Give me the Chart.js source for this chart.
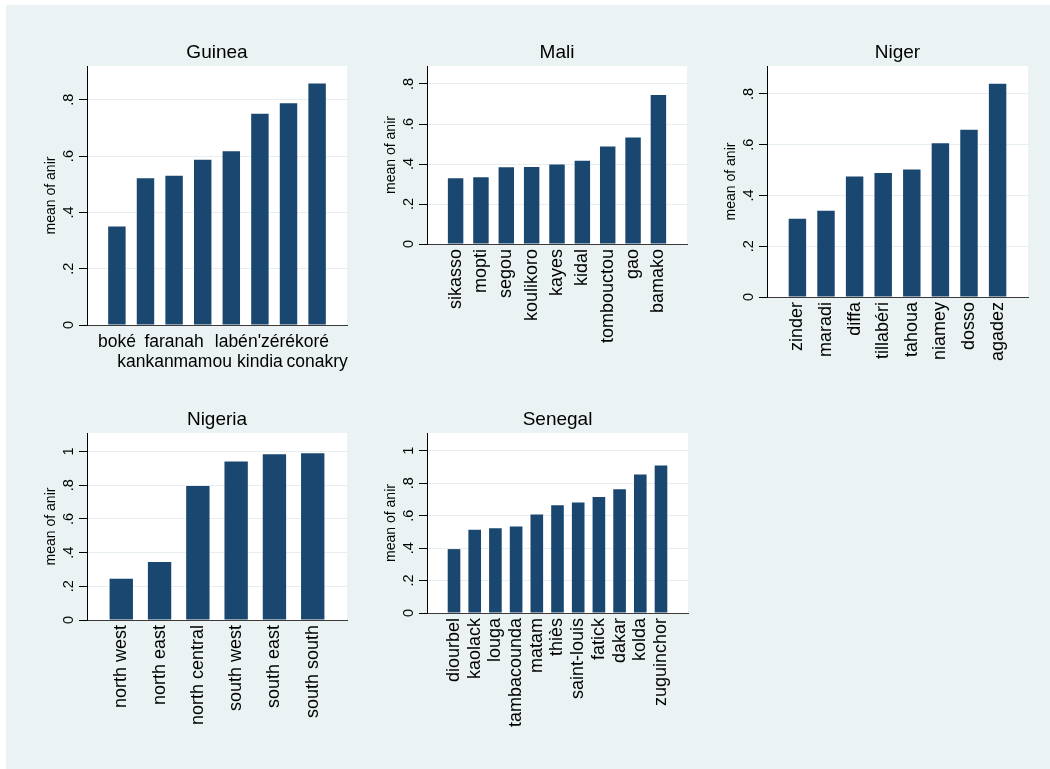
<!DOCTYPE html>
<html>
<head>
<meta charset="utf-8">
<title>mean of anir by region</title>
<script src="https://cdn.jsdelivr.net/npm/chart.js@4"></script>
<style>
  body { margin: 0; background: #ffffff; }
  #graph { position: absolute; left: 6px; top: 5px; width: 1044px; height: 764px; background: #eaf2f3; }
  canvas { position: absolute; }
</style>
</head>
<body>
<div id="graph"></div>
<script>
'use strict';

var guineaRegions = ['boké', 'kankan', 'faranah', 'mamou', 'labé', 'kindia', "n'zérékoré", 'conakry'];
var guineaAnir = [0.350, 0.521, 0.530, 0.587, 0.617, 0.750, 0.788, 0.858];

var maliRegions = ['sikasso', 'mopti', 'segou', 'koulikoro', 'kayes', 'kidal', 'tombouctou', 'gao', 'bamako'];
var maliAnir = [0.329, 0.334, 0.384, 0.385, 0.398, 0.416, 0.488, 0.533, 0.745];

var nigerRegions = ['zinder', 'maradi', 'diffa', 'tillabéri', 'tahoua', 'niamey', 'dosso', 'agadez'];
var nigerAnir = [0.308, 0.340, 0.475, 0.488, 0.502, 0.606, 0.659, 0.840];

var nigeriaRegions = ['north west', 'north east', 'north central', 'south west', 'south east', 'south south'];
var nigeriaAnir = [0.245, 0.344, 0.796, 0.941, 0.984, 0.990];

var senegalRegions = ['diourbel', 'kaolack', 'louga', 'tambacounda', 'matam', 'thiès', 'saint-louis', 'fatick', 'dakar', 'kolda', 'zuguinchor'];
var senegalAnir = [0.394, 0.513, 0.522, 0.534, 0.608, 0.664, 0.682, 0.715, 0.763, 0.854, 0.909];

var ticksToPoint8 = [0, 0.2, 0.4, 0.6, 0.8];
var ticksToOne = [0, 0.2, 0.4, 0.6, 0.8, 1];

var navy = '#1a476f';
var gridColor = '#e6eef0';
var fontFamily = "'Liberation Sans', Arial, Helvetica, sans-serif";

Chart.defaults.font.family = fontFamily;
Chart.defaults.color = '#000000';

// white plot region inside the bluish graph region
var plotRegion = {
    id: 'plotRegion',
    beforeDraw: function (chart) {
        var a = chart.chartArea;
        var ctx = chart.ctx;
        ctx.save();
        ctx.fillStyle = '#ffffff';
        ctx.fillRect(a.left, a.top, a.right - a.left, a.bottom - a.top);
        ctx.restore();
    }
};

function tickText(v) {
    if (v === 0) { return '0'; }
    if (v === 1) { return '1'; }
    return String(v).replace(/^0/, '');
}

// p: title, names, values, yTicks, ymax, outer (category margin), box (plot region), labelSpace, stagger
function drawPanel(p) {
    var yAxisWidth = 50;
    var topSpace = 30;
    var rightSpace = 14;
    var w = p.box.right - p.box.left + yAxisWidth + rightSpace;
    var h = p.box.bottom - p.box.top + topSpace + p.labelSpace;

    var canvas = document.createElement('canvas');
    canvas.width = w;
    canvas.height = h;
    canvas.style.left = (p.box.left - yAxisWidth) + 'px';
    canvas.style.top = (p.box.top - topSpace) + 'px';
    document.body.appendChild(canvas);

    var points = p.values.map(function (v, i) {
        return { x: i + 1, y: v };
    });

    return new Chart(canvas, {
        type: 'bar',
        data: {
            datasets: [{
                data: points,
                backgroundColor: navy,
                borderWidth: 0,
                barPercentage: 0.61,
                categoryPercentage: 1
            }]
        },
        plugins: [plotRegion],
        options: {
            responsive: false,
            animation: false,
            events: [],
            layout: { padding: { top: 5.6, right: rightSpace, bottom: 0, left: 0 } },
            plugins: {
                legend: { display: false },
                tooltip: { enabled: false },
                title: {
                    display: true,
                    text: p.title,
                    fullSize: false,
                    color: '#000000',
                    font: { size: 19, weight: 'normal', lineHeight: 1.2 },
                    padding: { top: 0, bottom: 1.6 }
                }
            },
            scales: {
                x: {
                    type: 'linear',
                    offset: false,
                    min: 1 - p.outer,
                    max: p.values.length + p.outer,
                    grid: { display: false, drawTicks: false },
                    border: { display: true, color: '#3a3a3a', width: 1 },
                    afterBuildTicks: function (scale) {
                        scale.ticks = p.names.map(function (n, i) {
                            return { value: i + 1 };
                        });
                    },
                    afterFit: function (scale) {
                        scale.height = p.labelSpace;
                    },
                    ticks: {
                        autoSkip: false,
                        minRotation: p.stagger ? 0 : 90,
                        maxRotation: p.stagger ? 0 : 90,
                        padding: p.stagger ? 7 : 5,
                        color: '#000000',
                        font: { size: p.stagger ? 17.5 : 18, lineHeight: p.stagger ? 1.143 : 1.2 },
                        callback: function (value, index) {
                            var name = p.names[value - 1];
                            if (!p.stagger) { return name; }
                            return index % 2 === 0 ? [name, ''] : ['', name];
                        }
                    }
                },
                y: {
                    min: 0,
                    max: p.ymax,
                    afterBuildTicks: function (scale) {
                        scale.ticks = p.yTicks.map(function (v) {
                            return { value: v };
                        });
                    },
                    afterFit: function (scale) {
                        scale.width = yAxisWidth;
                    },
                    grid: { color: gridColor, lineWidth: 1, tickColor: '#000000', tickLength: 8, tickWidth: 1 },
                    border: { display: true, color: '#000000', width: 1 },
                    ticks: {
                        minRotation: 90,
                        maxRotation: 90,
                        crossAlign: 'center',
                        padding: 4,
                        color: '#000000',
                        font: { size: 14.5 },
                        callback: tickText
                    },
                    title: {
                        display: true,
                        text: 'mean of anir',
                        color: '#000000',
                        font: { size: 14 },
                        padding: { top: 6, bottom: 0 }
                    }
                }
            }
        }
    });
}

drawPanel({
    title: 'Guinea', names: guineaRegions, values: guineaAnir,
    yTicks: ticksToPoint8, ymax: 0.92, outer: 1.045, stagger: true,
    box: { left: 87, right: 347, top: 66, bottom: 325 }, labelSpace: 60
});

drawPanel({
    title: 'Mali', names: maliRegions, values: maliAnir,
    yTicks: ticksToPoint8, ymax: 0.89, outer: 1.128,
    box: { left: 427, right: 687, top: 66, bottom: 244 }, labelSpace: 110
});

drawPanel({
    title: 'Niger', names: nigerRegions, values: nigerAnir,
    yTicks: ticksToPoint8, ymax: 0.91, outer: 1.063,
    box: { left: 767, right: 1028, top: 66, bottom: 297 }, labelSpace: 110
});

drawPanel({
    title: 'Nigeria', names: nigeriaRegions, values: nigeriaAnir,
    yTicks: ticksToOne, ymax: 1.11, outer: 0.895,
    box: { left: 87, right: 347, top: 433, bottom: 620 }, labelSpace: 135
});

drawPanel({
    title: 'Senegal', names: senegalRegions, values: senegalAnir,
    yTicks: ticksToOne, ymax: 1.11, outer: 1.305,
    box: { left: 427, right: 688, top: 433, bottom: 613 }, labelSpace: 140
});
</script>
</body>
</html>
